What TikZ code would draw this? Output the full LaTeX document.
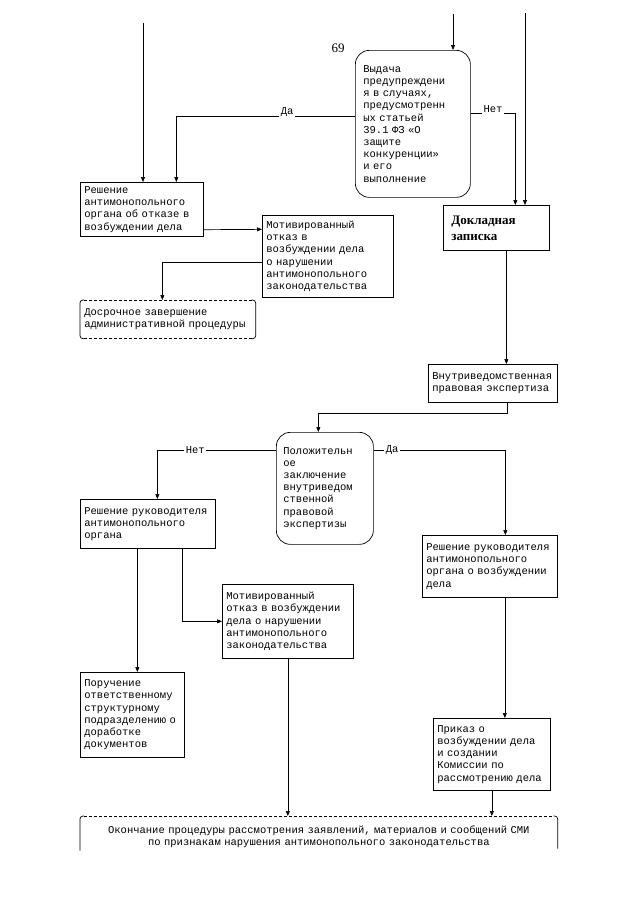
\documentclass[tikz,border=0pt]{standalone}
\usepackage{fontspec}
\usepackage{tikz}
\usetikzlibrary{arrows.meta}
\newfontfamily\monofnt{Liberation Mono}
\newfontfamily\timesfnt{Liberation Serif}
\newcommand{\boxfont}{\monofnt\fontsize{10.5}{12.2}\selectfont}

\begin{document}
\begin{tikzpicture}[x=1pt,y=-1pt,line width=0.7pt,
	>={Triangle[length=5pt,width=4pt]},
	block/.style 2 args={draw, anchor=north west, inner xsep=4pt, inner ysep=1pt, text width=#1, minimum height=#2, align=left, font=\boxfont},
	rblock/.style 2 args={block={#1}{#2}, rounded corners=14pt, inner xsep=8pt},
	dblock/.style 2 args={anchor=north west, inner xsep=4pt, inner ysep=1pt, text width=#1, minimum height=#2, align=left, font=\boxfont},
	lbl/.style={fill=white, inner sep=1.5pt, font=\boxfont},
	dashline/.style={dash pattern=on 3pt off 2pt}]
	\useasboundingbox (0,0) rectangle (640,905);
	\node[font=\timesfnt\fontsize{13}{15}\selectfont] (pagenum) at (338,48) {69};
	\coordinate (in1) at (143,23);
	\coordinate (in2) at (453,14);
	\coordinate (in3) at (525,13);
	\node[block={115pt}{54pt}] (otkaz) at (80,182) {Решение\\антимонопольного\\органа об отказе в\\возбуждении дела};
	\node[block={123pt}{82pt}] (mototkaz) at (262,215) {Мотивированный\\отказ в\\возбуждении дела\\о нарушении\\антимонопольного\\законодательства};
	\node[dblock={167pt}{38pt}] (dosroch) at (80,300) {Досрочное завершение\\административной процедуры};
	\node[rblock={99pt}{147pt}] (vydacha) at (355,50) {Выдача\\предупреждени\\я в случаях,\\предусмотренн\\ых статьей\\39.1 ФЗ «О\\защите\\конкуренции»\\и его\\выполнение};
	\node[draw, anchor=north west, inner xsep=8pt, text width=90pt, minimum height=45pt, align=left, font=\timesfnt\bfseries\fontsize{13}{16}\selectfont] (dokl) at (443,205) {Докладная\\записка};
	\node[block={121pt}{38pt}] (vnutr) at (428,364) {Внутриведомственная\\правовая экспертиза};
	\node[rblock={83pt}{112pt}, inner xsep=7pt] (polozh) at (276,432) {Положительн\\ое\\заключение\\внутриведом\\ственной\\правовой\\экспертизы};
	\node[block={127pt}{49pt}] (rukotk) at (80,499) {Решение руководителя\\антимонопольного\\органа};
	\node[block={127pt}{62pt}] (rukvozb) at (422,535) {Решение руководителя\\антимонопольного\\органа о возбуждении\\дела};
	\node[block={123pt}{74pt}] (motvozb) at (222,584) {Мотивированный\\отказ в возбуждении\\дела о нарушении\\антимонопольного\\законодательства};
	\node[block={96pt}{85pt}] (poruch) at (80,672) {Поручение\\ответственному\\структурному\\подразделению о\\доработке\\документов};
	\node[block={109pt}{72pt}] (prikaz) at (433,718) {Приказ о\\возбуждении дела\\и создании\\Комиссии по\\рассмотрению дела};
	\node[dblock={471pt}{40pt}, align=center, inner xsep=3pt] (okonch) at (80,816) {Окончание процедуры рассмотрения заявлений, материалов и сообщений СМИ\\по признакам нарушения антимонопольного законодательства};
	\draw[->] (in1) -- (in1 |- otkaz.north);
	\draw[->] ([yshift=8pt]vydacha.west) -| node[lbl,pos=0.19,yshift=4pt]{Да} ([xshift=34.5pt]otkaz.north);
	\draw[->] ([yshift=7pt]otkaz.south east) -- ([yshift=27pt]mototkaz.west);
	\draw[->] ([yshift=-6pt]mototkaz.west) -| ([xshift=-5.5pt]dosroch.north);
	\draw[->] (in2) -- (in2 |- vydacha.north);
	\draw[->] ([yshift=10.5pt]vydacha.east) -| node[lbl,pos=0.25,yshift=4pt]{Нет} ([xshift=19pt]dokl.north);
	\draw[->] (in3) -- (in3 |- dokl.north);
	\draw[->] ([xshift=10pt]dokl.south) -- ([xshift=13.5pt]vnutr.north);
	\draw[->] ([xshift=14.5pt]vnutr.south) -- ++(0,11) -| ([xshift=-6.5pt]polozh.north);
	\draw[->] ([yshift=38pt]polozh.west) -| node[lbl,pos=0.34]{Нет} ([xshift=9.5pt]rukotk.north);
	\draw[->] ([yshift=38pt]polozh.east) -| node[lbl,pos=0.07]{Да} ([xshift=15.5pt]rukvozb.north);
	\draw[->] ([xshift=-10.5pt]rukotk.south) -- ([xshift=5pt]poruch.north);
	\draw[->] ([xshift=34pt]rukotk.south) |- (motvozb.west);
	\draw[->] ([xshift=15pt]rukvozb.south) -- ([xshift=13pt]prikaz.north);
	\draw[->] (motvozb.south) -- ([xshift=-31pt]okonch.north);
	\draw[->] (prikaz.south) -- ([xshift=173pt]okonch.north);
	\draw[dashline] ([xshift=4pt]dosroch.north west) -- ([xshift=-4pt]dosroch.north east);
	\draw[dashline] ([xshift=4pt]dosroch.south west) -- ([xshift=-4pt]dosroch.south east);
	\draw[rounded corners=3pt] ([xshift=4pt]dosroch.north west) -- (dosroch.north west) -- (dosroch.south west) -- ([xshift=4pt]dosroch.south west);
	\draw[rounded corners=3pt] ([xshift=-4pt]dosroch.north east) -- (dosroch.north east) -- (dosroch.south east) -- ([xshift=-4pt]dosroch.south east);
	\draw[dashline] ([xshift=4pt]okonch.north west) -- ([xshift=-4pt]okonch.north east);
	\draw[rounded corners=3pt] ([xshift=4pt]okonch.north west) -- (okonch.north west) -- ([yshift=6pt]okonch.south west);
	\draw[rounded corners=3pt] ([xshift=-4pt]okonch.north east) -- (okonch.north east) -- ([yshift=8pt]okonch.south east);
\end{tikzpicture}
\end{document}
